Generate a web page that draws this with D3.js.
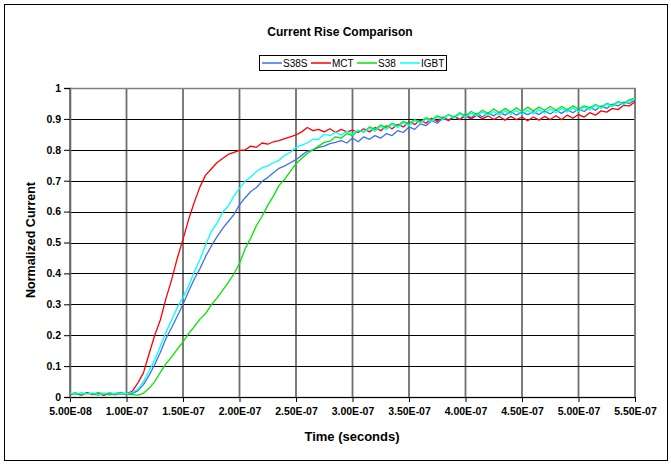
<!DOCTYPE html>
<html>
<head>
<meta charset="utf-8">
<script src="https://cdn.jsdelivr.net/npm/d3@7"></script>
<style>
  body { margin: 0; background: #fff; }
  svg { display: block; font-family: Arial, "Liberation Sans", sans-serif; }
</style>
</head>
<body>
<script>
// Sample times (ns), one reading every 5 ns
const timeNs = d3.range(50, 551, 5);

// Normalized current per device
const s38s = [0.008, 0.011, 0.007, 0.013, 0.009, 0.006, 0.012, 0.010, 0.007, 0.011, 0.009, 0.012,
  0.020, 0.040, 0.070, 0.105, 0.145, 0.190, 0.225, 0.262, 0.300, 0.342,
  0.382, 0.415, 0.455, 0.488, 0.518, 0.545, 0.568, 0.590, 0.622, 0.645,
  0.665, 0.678, 0.698, 0.710, 0.726, 0.740, 0.748, 0.758, 0.768, 0.782,
  0.795, 0.800, 0.808, 0.812, 0.820, 0.824, 0.830, 0.822, 0.838, 0.826,
  0.842, 0.834, 0.846, 0.838, 0.852, 0.846, 0.862, 0.856, 0.874, 0.866,
  0.884, 0.878, 0.894, 0.886, 0.902, 0.894, 0.908, 0.898, 0.914, 0.904,
  0.918, 0.906, 0.920, 0.910, 0.922, 0.912, 0.924, 0.912, 0.922, 0.914,
  0.924, 0.914, 0.926, 0.916, 0.928, 0.918, 0.930, 0.920, 0.932, 0.924,
  0.938, 0.928, 0.942, 0.934, 0.948, 0.942, 0.954, 0.950, 0.962];

const mct = [0.010, 0.012, 0.006, 0.014, 0.008, 0.011, 0.005, 0.013, 0.009, 0.012, 0.010, 0.018,
  0.045, 0.078, 0.140, 0.200, 0.250, 0.320, 0.380, 0.450, 0.510, 0.575,
  0.630, 0.680, 0.718, 0.738, 0.758, 0.772, 0.785, 0.792, 0.798, 0.800,
  0.812, 0.808, 0.822, 0.818, 0.826, 0.830, 0.836, 0.842, 0.848, 0.858,
  0.872, 0.862, 0.866, 0.858, 0.868, 0.856, 0.866, 0.858, 0.864, 0.856,
  0.868, 0.858, 0.872, 0.862, 0.878, 0.868, 0.882, 0.874, 0.890, 0.882,
  0.896, 0.886, 0.902, 0.892, 0.906, 0.896, 0.908, 0.898, 0.910, 0.900,
  0.912, 0.900, 0.910, 0.898, 0.908, 0.896, 0.908, 0.898, 0.906, 0.894,
  0.906, 0.896, 0.908, 0.898, 0.910, 0.898, 0.912, 0.902, 0.914, 0.906,
  0.920, 0.912, 0.926, 0.922, 0.934, 0.930, 0.944, 0.942, 0.956];

const s38 = [0.010, 0.013, 0.008, 0.012, 0.009, 0.014, 0.011, 0.007, 0.012, 0.015, 0.010, 0.008,
  0.006, 0.012, 0.028, 0.050, 0.080, 0.108, 0.130, 0.155, 0.178, 0.205,
  0.228, 0.252, 0.270, 0.298, 0.320, 0.345, 0.370, 0.398, 0.432, 0.480,
  0.515, 0.555, 0.585, 0.620, 0.650, 0.685, 0.705, 0.730, 0.755, 0.772,
  0.788, 0.800, 0.812, 0.824, 0.828, 0.842, 0.838, 0.852, 0.846, 0.862,
  0.858, 0.874, 0.866, 0.880, 0.872, 0.886, 0.878, 0.892, 0.884, 0.898,
  0.890, 0.904, 0.896, 0.910, 0.902, 0.914, 0.906, 0.920, 0.910, 0.924,
  0.914, 0.928, 0.918, 0.932, 0.920, 0.934, 0.922, 0.936, 0.924, 0.938,
  0.926, 0.938, 0.928, 0.940, 0.928, 0.940, 0.930, 0.942, 0.932, 0.942,
  0.936, 0.946, 0.938, 0.950, 0.944, 0.956, 0.950, 0.962, 0.966];

const igbt = [0.012, 0.009, 0.014, 0.010, 0.013, 0.008, 0.011, 0.014, 0.009, 0.012, 0.010, 0.015,
  0.025, 0.050, 0.085, 0.120, 0.165, 0.210, 0.250, 0.290, 0.322, 0.360,
  0.405, 0.445, 0.492, 0.535, 0.562, 0.598, 0.618, 0.650, 0.675, 0.698,
  0.712, 0.730, 0.742, 0.748, 0.758, 0.766, 0.782, 0.792, 0.808, 0.815,
  0.822, 0.834, 0.834, 0.850, 0.846, 0.856, 0.848, 0.860, 0.850, 0.864,
  0.856, 0.870, 0.860, 0.876, 0.866, 0.882, 0.872, 0.888, 0.878, 0.894,
  0.886, 0.900, 0.892, 0.906, 0.898, 0.912, 0.902, 0.916, 0.906, 0.918,
  0.910, 0.922, 0.912, 0.924, 0.912, 0.926, 0.914, 0.928, 0.914, 0.928,
  0.916, 0.930, 0.918, 0.932, 0.920, 0.934, 0.922, 0.936, 0.924, 0.938,
  0.930, 0.944, 0.934, 0.948, 0.940, 0.954, 0.946, 0.958, 0.964];

const seriesNames = ["S38S", "MCT", "S38", "IGBT"];
const seriesColors = ["#3f6ff0", "#ff0000", "#00e600", "#00ffff"];
const seriesValues = [s38s, mct, s38, igbt];

const xTickValues = [5e-8, 1e-7, 1.5e-7, 2e-7, 2.5e-7, 3e-7, 3.5e-7, 4e-7, 4.5e-7, 5e-7, 5.5e-7];
const xTickLabels = ["5.00E-08", "1.00E-07", "1.50E-07", "2.00E-07", "2.50E-07", "3.00E-07",
  "3.50E-07", "4.00E-07", "4.50E-07", "5.00E-07", "5.50E-07"];
const yTickValues = [0, 0.1, 0.2, 0.3, 0.4, 0.5, 0.6, 0.7, 0.8, 0.9, 1];
const yTickLabels = ["0", "0.1", "0.2", "0.3", "0.4", "0.5", "0.6", "0.7", "0.8", "0.9", "1"];

const W = 671, H = 464;
const plot = { left: 70, right: 635, top: 88, bottom: 397 };

const svg = d3.select("body").append("svg").attr("width", W).attr("height", H);

// outer chart frame
svg.append("rect")
  .attr("x", 4.5).attr("y", 4.5).attr("width", 663).attr("height", 456)
  .attr("fill", "#fff").attr("stroke", "#000").attr("stroke-width", 1);

const x = d3.scaleLinear().domain([5e-8, 5.5e-7]).range([plot.left, plot.right]);
const y = d3.scaleLinear().domain([0, 1]).range([plot.bottom, plot.top]);

// gridlines: vertical ones grey and soft, horizontal ones black
svg.append("g").selectAll("line").data(xTickValues).enter().append("line")
  .attr("x1", d => x(d)).attr("x2", d => x(d))
  .attr("y1", plot.top).attr("y2", plot.bottom)
  .attr("stroke", "#6e6e6e").attr("stroke-width", 1.8);

svg.append("g").selectAll("line").data(yTickValues.slice(1, -1)).enter().append("line")
  .attr("x1", plot.left).attr("x2", plot.right)
  .attr("y1", d => Math.round(y(d)) + 0.5).attr("y2", d => Math.round(y(d)) + 0.5)
  .attr("stroke", "#000").attr("stroke-width", 1);

// plot frame
svg.append("rect")
  .attr("x", plot.left).attr("y", plot.top + 0.5)
  .attr("width", plot.right - plot.left).attr("height", plot.bottom - plot.top)
  .attr("fill", "none").attr("stroke", "#808080").attr("stroke-width", 1.5);

// axes
const xAxis = d3.axisBottom(x).tickValues(xTickValues).tickSize(5)
  .tickFormat((d, i) => xTickLabels[i]);
const yAxis = d3.axisLeft(y).tickValues(yTickValues).tickSize(6)
  .tickFormat((d, i) => yTickLabels[i]);

const gx = svg.append("g").attr("transform", `translate(0,${plot.bottom})`).call(xAxis);
gx.select(".domain").attr("stroke", "#000");
gx.selectAll("text").attr("font-size", 10.5).attr("font-weight", "bold")
  .attr("fill", "#000").attr("dy", "0.95em").attr("font-family", "Arial, 'Liberation Sans', sans-serif");

const gy = svg.append("g").attr("transform", `translate(${plot.left},0)`).call(yAxis);
gy.select(".domain").attr("stroke", "#666").attr("stroke-width", 1.5);
gy.selectAll("text").attr("font-size", 10.5).attr("font-weight", "bold")
  .attr("fill", "#000").attr("x", -9).attr("font-family", "Arial, 'Liberation Sans', sans-serif");

// traces
svg.append("clipPath").attr("id", "clip").append("rect")
  .attr("x", plot.left).attr("y", plot.top - 2)
  .attr("width", plot.right - plot.left).attr("height", plot.bottom - plot.top + 2);

const line = d3.line()
  .x((d, i) => x(timeNs[i] * 1e-9))
  .y(d => y(d));

svg.append("g").attr("clip-path", "url(#clip)")
  .selectAll("path").data(seriesValues).enter().append("path")
  .attr("d", line)
  .attr("fill", "none")
  .attr("stroke", (d, i) => seriesColors[i])
  .attr("stroke-width", 1.3)
  .attr("stroke-linejoin", "round");

// title
svg.append("text").attr("x", 340).attr("y", 36).attr("text-anchor", "middle")
  .attr("font-size", 12).attr("font-weight", "bold").text("Current Rise Comparison");

// legend
const legend = svg.append("g");
legend.append("rect").attr("x", 259.5).attr("y", 55.5).attr("width", 187).attr("height", 15)
  .attr("fill", "#fff").attr("stroke", "#000").attr("stroke-width", 1);
const legendX = [262, 311, 357, 400];
const item = legend.selectAll("g.item").data(seriesNames).enter().append("g")
  .attr("class", "item")
  .attr("transform", (d, i) => `translate(${legendX[i]},63)`);
item.append("line").attr("x1", 0).attr("x2", 20).attr("y1", 0).attr("y2", 0)
  .attr("stroke", (d, i) => seriesColors[i]).attr("stroke-width", 1.5);
item.append("text").attr("x", 21).attr("y", 3.5).attr("font-size", 10).text(d => d);

// axis titles
svg.append("text").attr("x", 352).attr("y", 441).attr("text-anchor", "middle")
  .attr("font-size", 13).attr("font-weight", "bold").text("Time (seconds)");
svg.append("text").attr("transform", "translate(35,240) rotate(-90)")
  .attr("text-anchor", "middle").attr("font-size", 12.5).attr("font-weight", "bold")
  .text("Normalized Current");
</script>
</body>
</html>
